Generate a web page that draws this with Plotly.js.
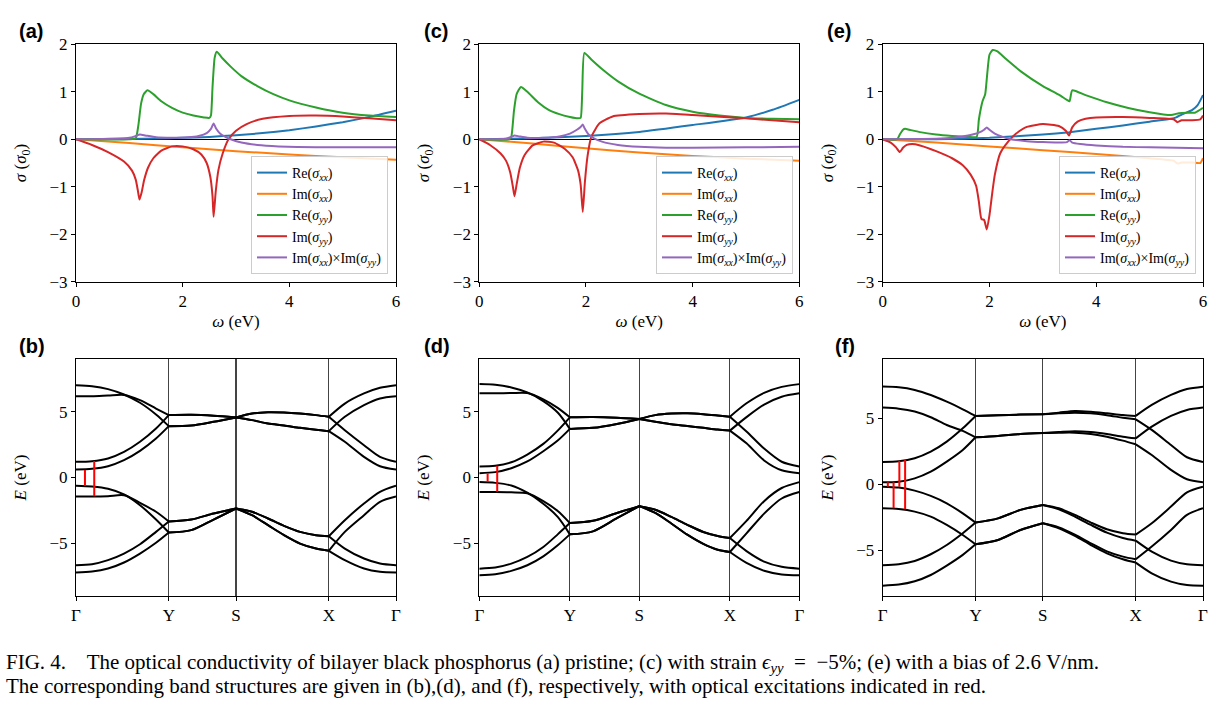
<!DOCTYPE html>
<html><head><meta charset="utf-8">
<script src="https://cdn.plot.ly/plotly-3.0.1.min.js"></script>
<style>html,body{margin:0;padding:0;background:#fff}#plot{width:1232px;height:709px}</style>
</head><body><div id="plot"></div>
<script>
// ---------------- Conductivity data (panel a: pristine) ----------------
const wReXX_a = [0,1,1.5,2,2.5,3,3.5,4,4.5,5,5.5,6];
const reXX_a  = [0,0.005,0.015,0.03,0.05,0.085,0.13,0.19,0.27,0.36,0.47,0.6];
const wImXX_a = [0,1,2,3,4,5,6];
const imXX_a  = [0,-0.08,-0.17,-0.25,-0.32,-0.38,-0.43];
const wReYY_a = [0,1.0,1.12,1.17,1.22,1.27,1.34,1.45,1.6,1.8,2.0,2.2,2.4,2.5,2.53,2.56,2.6,2.64,2.75,2.9,3.1,3.4,3.7,4.0,4.5,5.0,5.5,6.0];
const reYY_a  = [0,0.0,0.02,0.3,0.75,0.95,1.03,0.95,0.8,0.66,0.56,0.5,0.46,0.45,0.5,1.1,1.72,1.845,1.7,1.53,1.33,1.12,0.95,0.82,0.67,0.56,0.5,0.47];
const wImYY_a = [0,0.3,0.6,0.9,1.05,1.12,1.16,1.19,1.23,1.28,1.35,1.45,1.6,1.8,2.0,2.2,2.35,2.45,2.52,2.56,2.58,2.62,2.67,2.75,2.86,3.0,3.2,3.5,4.0,4.5,5.0,5.5,6.0];
const imYY_a  = [0,-0.12,-0.27,-0.47,-0.66,-0.85,-1.08,-1.27,-1.12,-0.85,-0.6,-0.4,-0.24,-0.15,-0.15,-0.21,-0.32,-0.5,-0.8,-1.2,-1.63,-1.1,-0.65,-0.3,0.0,0.18,0.32,0.43,0.49,0.5,0.48,0.44,0.4];
const wProd_a = [0,0.5,1.0,1.1,1.2,1.3,1.5,1.8,2.1,2.3,2.45,2.53,2.58,2.63,2.7,2.8,2.9,3.1,3.4,3.8,4.5,5.0,6.0];
const prod_a  = [0,0.005,0.03,0.06,0.1,0.08,0.04,0.03,0.04,0.07,0.13,0.22,0.33,0.22,0.12,0.05,0.0,-0.07,-0.12,-0.15,-0.17,-0.17,-0.17];

// ---------------- Conductivity data (panel c: strain) ----------------
const wReXX_c = [0,1,2,3,4,5,5.5,6];
const reXX_c  = [0,0.02,0.07,0.155,0.3,0.46,0.62,0.83];
const wImXX_c = [0,1,2,3,4,5,6];
const imXX_c  = [0,-0.09,-0.19,-0.28,-0.35,-0.41,-0.45];
const wReYY_c = [0,0.56,0.6,0.65,0.7,0.78,0.9,1.1,1.3,1.5,1.7,1.85,1.9,1.93,1.97,2.1,2.3,2.6,3.0,3.5,4.0,4.5,5.0,5.5,6.0];
const reYY_c  = [0,0.0,0.05,0.6,0.95,1.1,1.0,0.78,0.62,0.53,0.47,0.44,0.45,1.0,1.82,1.68,1.48,1.22,0.96,0.72,0.58,0.5,0.45,0.43,0.42];
const wImYY_c = [0,0.2,0.4,0.5,0.58,0.63,0.66,0.7,0.76,0.85,1.0,1.2,1.4,1.6,1.75,1.85,1.9,1.94,1.98,2.03,2.1,2.25,2.5,3.0,3.5,4.0,5.0,6.0];
const imYY_c  = [0,-0.12,-0.3,-0.45,-0.7,-1.0,-1.2,-0.95,-0.6,-0.33,-0.13,-0.05,-0.07,-0.2,-0.38,-0.65,-0.95,-1.53,-0.9,-0.35,0.05,0.33,0.48,0.53,0.54,0.51,0.44,0.36];
const wProd_c = [0,0.5,0.6,0.66,0.75,0.9,1.2,1.5,1.7,1.83,1.9,1.94,1.98,2.05,2.15,2.3,2.6,3.0,3.5,4.0,5.0,6.0];
const prod_c  = [0,0.01,0.05,0.08,0.06,0.03,0.03,0.06,0.12,0.2,0.26,0.31,0.22,0.1,0.02,-0.05,-0.12,-0.16,-0.18,-0.18,-0.17,-0.16];

// ---------------- Conductivity data (panel e: bias) ----------------
const wReXX_e = [0,1,2,3,3.5,4,4.5,5,5.4,5.5,5.6,5.8,5.9,6.0];
const reXX_e  = [0,0.0,0.03,0.1,0.15,0.22,0.29,0.37,0.43,0.46,0.52,0.62,0.72,0.93];
const wImXX_e = [0,1,2,3,4,5,5.45,5.52,5.6,5.8,5.95,6.0];
const imXX_e  = [0,-0.07,-0.15,-0.23,-0.31,-0.4,-0.45,-0.51,-0.49,-0.49,-0.5,-0.4];
const wReYY_e = [0,0.27,0.32,0.38,0.42,0.5,0.7,1.0,1.3,1.6,1.76,1.8,1.83,1.87,1.92,1.96,2.0,2.06,2.15,2.3,2.6,3.0,3.3,3.45,3.5,3.55,3.8,4.2,4.6,5.0,5.4,5.55,5.7,5.85,6.0];
const reYY_e  = [0,0,0.1,0.2,0.22,0.2,0.15,0.1,0.07,0.05,0.05,0.4,0.6,0.8,0.95,1.4,1.78,1.88,1.85,1.7,1.42,1.12,0.94,0.83,0.8,1.03,0.93,0.78,0.66,0.57,0.51,0.55,0.56,0.56,0.66];
const wImYY_e = [0,0.15,0.25,0.32,0.38,0.45,0.55,0.7,1.0,1.3,1.5,1.65,1.75,1.8,1.85,1.9,1.95,2.0,2.05,2.1,2.2,2.35,2.5,2.7,3.0,3.3,3.43,3.49,3.55,3.65,3.8,4.0,4.5,5.0,5.45,5.52,5.6,5.8,5.95,6.0];
const imYY_e  = [0,-0.07,-0.17,-0.27,-0.18,-0.12,-0.1,-0.13,-0.25,-0.4,-0.55,-0.75,-0.98,-1.3,-1.68,-1.7,-1.9,-1.6,-1.15,-0.75,-0.3,-0.05,0.12,0.26,0.32,0.28,0.18,0.08,0.25,0.37,0.43,0.46,0.47,0.45,0.42,0.36,0.4,0.4,0.42,0.5];
const wProd_e = [0,0.5,1.0,1.3,1.6,1.8,1.9,1.95,2.0,2.1,2.25,2.4,2.7,3.0,3.3,3.45,3.5,3.55,3.7,4.0,4.5,5.0,5.5,6.0];
const prod_e  = [0,0.0,0.01,0.03,0.08,0.14,0.2,0.25,0.2,0.12,0.05,0.0,-0.04,-0.06,-0.07,-0.06,-0.02,-0.07,-0.1,-0.13,-0.16,-0.17,-0.18,-0.19];

const seriesNames = ['Re(<i>σ</i><sub><i>xx</i></sub>)','Im(<i>σ</i><sub><i>xx</i></sub>)','Re(<i>σ</i><sub><i>yy</i></sub>)','Im(<i>σ</i><sub><i>yy</i></sub>)','Im(<i>σ</i><sub><i>xx</i></sub>)×Im(<i>σ</i><sub><i>yy</i></sub>)'];
const seriesColors = ['#1f77b4','#ff7f0e','#2ca02c','#d62728','#9467bd'];

// ---------------- Band structure data ----------------
const kLabels = ['Γ','Y','S','X','Γ'];
// panel b (pristine): k per path segment Γ-Y, Y-S, S-X, X-Γ
const kB = [[0,0.05,0.10,0.15,0.20,0.25,0.29],[0.29,0.36,0.43,0.50],[0.50,0.55,0.60,0.65,0.70,0.75,0.79],[0.79,0.84,0.90,0.95,1.0]];
const bandsB = [
 [[7.03,6.95,6.73,6.32,5.69,4.80,3.91],[3.91,3.96,4.24,4.57],[4.57,4.87,4.97,4.95,4.87,4.75,4.62],[4.62,5.63,6.40,6.83,7.03]],
 [[6.19,6.19,6.24,6.29,5.89,5.25,4.75],[4.75,4.77,4.70,4.57],[4.57,4.37,4.11,3.96,3.78,3.63,3.53],[3.53,4.62,5.51,6.02,6.19]],
 [[1.19,1.24,1.45,1.95,2.72,3.73,4.75],[4.75,4.77,4.70,4.57],[4.57,4.87,4.97,4.95,4.87,4.75,4.62],[4.62,3.60,2.46,1.57,1.19]],
 [[0.61,0.66,0.86,1.32,2.03,2.97,3.91],[3.91,3.96,4.24,4.57],[4.57,4.37,4.11,3.96,3.78,3.63,3.53],[3.53,2.72,1.57,0.86,0.61]],
 [[-0.63,-0.69,-0.86,-1.29,-2.11,-3.20,-4.19],[-4.19,-4.01,-3.20,-2.36],[-2.36,-2.61,-3.12,-3.68,-4.14,-4.39,-4.47],[-4.47,-3.25,-1.98,-1.09,-0.63]],
 [[-1.45,-1.45,-1.42,-1.35,-1.93,-2.61,-3.35],[-3.35,-3.20,-2.74,-2.36],[-2.36,-2.87,-3.63,-4.39,-5.03,-5.41,-5.58],[-5.58,-4.14,-2.87,-1.85,-1.45]],
 [[-6.68,-6.60,-6.29,-5.79,-5.08,-4.14,-3.35],[-3.35,-3.20,-2.74,-2.36],[-2.36,-2.61,-3.12,-3.68,-4.14,-4.39,-4.47],[-4.47,-5.41,-6.17,-6.55,-6.68]],
 [[-7.23,-7.16,-6.93,-6.47,-5.79,-4.97,-4.19],[-4.19,-4.01,-3.20,-2.36],[-2.36,-2.87,-3.63,-4.39,-5.03,-5.41,-5.58],[-5.58,-6.29,-6.93,-7.18,-7.23]]
];
const exKB = [0.028,0.057], exLoB = [-0.63,-1.42], exHiB = [0.58,1.26];

// panel d (strain)
const kD = [[0,0.05,0.10,0.15,0.20,0.245,0.283],[0.283,0.355,0.43,0.50],[0.50,0.55,0.60,0.65,0.70,0.745,0.783],[0.783,0.835,0.89,0.945,1.0]];
const bandsD = [
 [[7.11,7.06,6.86,6.48,5.82,4.95,3.70],[3.70,3.78,4.08,4.46],[4.46,4.75,4.87,4.89,4.82,4.72,4.63],[4.63,5.65,6.45,6.90,7.11]],
 [[6.41,6.41,6.43,6.43,5.95,5.30,4.58],[4.58,4.60,4.55,4.46],[4.46,4.25,4.05,3.92,3.78,3.65,3.57],[3.57,4.60,5.55,6.15,6.41]],
 [[0.84,0.89,1.16,1.75,2.56,3.57,4.58],[4.58,4.60,4.55,4.46],[4.46,4.75,4.87,4.89,4.82,4.72,4.63],[4.63,3.50,2.20,1.20,0.84]],
 [[0.33,0.41,0.71,1.22,2.00,2.81,3.70],[3.70,3.78,4.08,4.46],[4.46,4.25,4.05,3.92,3.78,3.65,3.57],[3.57,2.60,1.30,0.55,0.33]],
 [[-0.35,-0.41,-0.61,-1.16,-2.00,-3.00,-4.33],[-4.33,-4.10,-3.10,-2.18],[-2.18,-2.45,-3.00,-3.60,-4.15,-4.45,-4.61],[-4.61,-3.30,-1.80,-0.80,-0.35]],
 [[-1.11,-1.11,-1.13,-1.20,-1.80,-2.55,-3.47],[-3.47,-3.30,-2.70,-2.18],[-2.18,-2.70,-3.50,-4.35,-5.05,-5.50,-5.67],[-5.67,-4.25,-2.75,-1.60,-1.11]],
 [[-6.94,-6.86,-6.56,-6.05,-5.29,-4.33,-3.47],[-3.47,-3.30,-2.70,-2.18],[-2.18,-2.45,-3.00,-3.60,-4.15,-4.45,-4.61],[-4.61,-5.60,-6.40,-6.80,-6.94]],
 [[-7.44,-7.37,-7.11,-6.68,-6.00,-5.16,-4.33],[-4.33,-4.10,-3.10,-2.18],[-2.18,-2.70,-3.50,-4.35,-5.05,-5.50,-5.67],[-5.67,-6.50,-7.10,-7.38,-7.44]]
];
const exKD = [0.026,0.056], exLoD = [-0.35,-1.08], exHiD = [0.33,0.90];

// panel f (bias)
const kF = [[0,0.05,0.10,0.15,0.20,0.25,0.29],[0.29,0.36,0.43,0.50],[0.50,0.55,0.60,0.65,0.70,0.75,0.79],[0.79,0.84,0.90,0.95,1.0]];
const bandsF = [
 [[7.40,7.35,7.15,6.77,6.26,5.68,5.18],[5.18,5.23,5.28,5.30],[5.30,5.43,5.56,5.50,5.38,5.25,5.18],[5.18,6.01,6.77,7.22,7.40]],
 [[5.81,5.73,5.51,5.08,4.49,4.05,3.56],[3.56,3.66,3.81,3.89],[3.89,3.96,4.02,3.96,3.81,3.61,3.48],[3.48,4.37,5.18,5.63,5.81]],
 [[1.69,1.74,1.97,2.47,3.23,4.24,5.18],[5.18,5.23,5.28,5.30],[5.30,5.38,5.43,5.38,5.23,5.05,4.92],[4.92,4.12,2.98,2.05,1.69]],
 [[0.15,0.20,0.45,0.96,1.72,2.60,3.56],[3.56,3.66,3.81,3.89],[3.89,3.91,3.91,3.81,3.61,3.31,3.03],[3.03,2.22,1.09,0.38,0.15]],
 [[-0.18,-0.25,-0.48,-0.88,-1.44,-2.20,-2.90],[-2.90,-2.58,-1.94,-1.57],[-1.57,-1.82,-2.32,-2.90,-3.41,-3.71,-3.81],[-3.81,-2.95,-1.69,-0.61,-0.18]],
 [[-1.82,-1.87,-2.07,-2.45,-3.08,-3.84,-4.55],[-4.55,-4.22,-3.46,-2.95],[-2.95,-3.26,-3.81,-4.47,-5.08,-5.48,-5.68],[-5.68,-4.72,-3.46,-2.32,-1.82]],
 [[-6.14,-6.06,-5.81,-5.30,-4.60,-3.71,-2.90],[-2.90,-2.58,-1.94,-1.57],[-1.57,-1.89,-2.45,-3.08,-3.66,-4.07,-4.27],[-4.27,-5.10,-5.78,-6.06,-6.14]],
 [[-7.68,-7.60,-7.35,-6.87,-6.16,-5.35,-4.55],[-4.55,-4.22,-3.46,-2.95],[-2.95,-3.33,-3.91,-4.60,-5.23,-5.68,-5.93],[-5.93,-6.74,-7.37,-7.63,-7.68]]
];
const exKF = [0.016,0.034,0.052,0.070], exLoF = [-0.18,-1.82,-0.18,-1.87], exHiF = [0.15,0.15,1.79,1.84];

// ---------------- Build traces ----------------
const traces = [];
function addSigma(ax, lg, sets) {
  sets.forEach((s, i) => {
    traces.push({x: s[0], y: s[1], type: 'scatter', mode: 'lines', name: seriesNames[i],
      line: {color: seriesColors[i], width: 2, shape: 'spline', smoothing: 0.5}, xaxis: 'x' + ax, yaxis: 'y' + ax,
      legend: lg, showlegend: true});
  });
}
addSigma('', 'legend', [[wReXX_a,reXX_a],[wImXX_a,imXX_a],[wReYY_a,reYY_a],[wImYY_a,imYY_a],[wProd_a,prod_a]]);
addSigma('2', 'legend2', [[wReXX_c,reXX_c],[wImXX_c,imXX_c],[wReYY_c,reYY_c],[wImYY_c,imYY_c],[wProd_c,prod_c]]);
addSigma('3', 'legend3', [[wReXX_e,reXX_e],[wImXX_e,imXX_e],[wReYY_e,reYY_e],[wImYY_e,imYY_e],[wProd_e,prod_e]]);

function addBands(ax, kSegs, bands, exK, exLo, exHi) {
  bands.forEach(b => {
    const xs = [], ys = [];
    kSegs.forEach((ks, si) => {
      if (si > 0) { xs.push(null); ys.push(null); }
      ks.forEach((k, j) => { xs.push(k); ys.push(b[si][j]); });
    });
    traces.push({x: xs, y: ys, type: 'scatter', mode: 'lines', showlegend: false,
      line: {color: '#000', width: 2, shape: 'spline', smoothing: 0.8},
      connectgaps: false, xaxis: 'x' + ax, yaxis: 'y' + ax, hoverinfo: 'skip'});
  });
  exK.forEach((k, i) => {
    traces.push({x: [k, k], y: [exLo[i], exHi[i]], type: 'scatter', mode: 'lines', showlegend: false,
      line: {color: '#ff0000', width: 2}, xaxis: 'x' + ax, yaxis: 'y' + ax});
  });
}
addBands('4', kB, bandsB, exKB, exLoB, exHiB);
addBands('5', kD, bandsD, exKD, exLoD, exHiD);
addBands('6', kF, bandsF, exKF, exLoF, exHiF);

// ---------------- Layout ----------------
const W = 1232, H = 709;
const serif = 'Liberation Serif';
const colX = [[76/W, 396/W], [479.3/W, 799.3/W], [882.7/W, 1203/W]];
const topY = [1 - 281.7/H, 1 - 44.3/H];
const botY = [1 - 595.7/H, 1 - 359.3/H];
const hsym = [[0,0.29,0.50,0.79,1.0],[0,0.283,0.50,0.783,1.0],[0,0.29,0.50,0.79,1.0]];
const bandRanges = [[-9,9],[-9,9],[-8.44,9.47]];

function baseAx() {
  return {showline: true, mirror: true, linecolor: '#000', linewidth: 1, ticks: 'outside',
    ticklen: 4, tickwidth: 1, tickcolor: '#000', tickfont: {family: serif, size: 17, color: '#000'},
    showgrid: false, zeroline: false};
}

const layout = {width: W, height: H, margin: {l: 0, r: 0, t: 0, b: 0, autoexpand: false}, paper_bgcolor: '#fff', plot_bgcolor: '#fff',
  font: {family: serif, color: '#000', size: 17}, annotations: [], showlegend: true};

['', '2', '3'].forEach((s, i) => {
  layout['xaxis' + s] = Object.assign(baseAx(), {domain: colX[i], anchor: 'y' + s, range: [0, 6],
    tickvals: [0, 2, 4, 6], title: {text: '<i>ω</i> (eV)', font: {family: serif, size: 17}, standoff: 5}});
  layout['yaxis' + s] = Object.assign(baseAx(), {domain: topY, anchor: 'x' + s, range: [-3, 2], automargin: true,
    tickvals: [-3, -2, -1, 0, 1, 2], zeroline: true, zerolinecolor: '#000', zerolinewidth: 1,
    title: {text: '<i>σ</i> (<i>σ</i><sub>0</sub>)', font: {family: serif, size: 17}, standoff: 18}});
});
['4', '5', '6'].forEach((s, i) => {
  layout['xaxis' + s] = Object.assign(baseAx(), {domain: colX[i], anchor: 'y' + s, range: [0, 1],
    tickvals: hsym[i], ticktext: kLabels, showgrid: true, gridcolor: '#444', gridwidth: 1.2});
  layout['yaxis' + s] = Object.assign(baseAx(), {domain: botY, anchor: 'x' + s, range: bandRanges[i], automargin: true,
    tickvals: [-5, 0, 5], title: {text: '<i>E</i> (eV)', font: {family: serif, size: 17}, standoff: 18}});
});

function legBox(xRight) {
  return {xanchor: 'right', yanchor: 'bottom', x: xRight / W, y: 1 - 274 / H,
    bgcolor: 'rgba(255,255,255,0.85)', bordercolor: '#cccccc', borderwidth: 1,
    font: {family: serif, size: 14, color: '#000'}, tracegroupgap: 0, itemwidth: 30};
}
layout.legend = legBox(388);
layout.legend2 = legBox(793);
layout.legend3 = legBox(1196);

const panelLabels = [['(a)', 17, 31], ['(c)', 422, 31], ['(e)', 825, 31], ['(b)', 17, 346], ['(d)', 422, 346], ['(f)', 833, 346]];
panelLabels.forEach(p => layout.annotations.push({text: '<b>' + p[0] + '</b>', xref: 'paper', yref: 'paper',
  x: p[1]/W, y: 1 - p[2]/H, xanchor: 'left', yanchor: 'middle', showarrow: false,
  font: {family: 'Liberation Sans', size: 20, color: '#000'}}));

const captionLines = [
  'FIG. 4.\u00A0\u00A0\u00A0 The optical conductivity of bilayer black phosphorus (a) pristine; (c) with strain <i>ϵ</i><sub><i>yy</i></sub>\u2002=\u2002−5%; (e) with a bias of 2.6 V/nm.',
  'The corresponding band structures are given in (b),(d), and (f), respectively, with optical excitations indicated in red.'
];
captionLines.forEach((t, i) => layout.annotations.push({text: t, xref: 'paper', yref: 'paper',
  x: 4/W, y: 1 - (663 + 23*i)/H, xanchor: 'left', yanchor: 'middle', showarrow: false, align: 'left',
  font: {family: serif, size: 21, color: '#000'}}));

Plotly.newPlot('plot', traces, layout, {staticPlot: true, displayModeBar: false});
</script></body></html>
